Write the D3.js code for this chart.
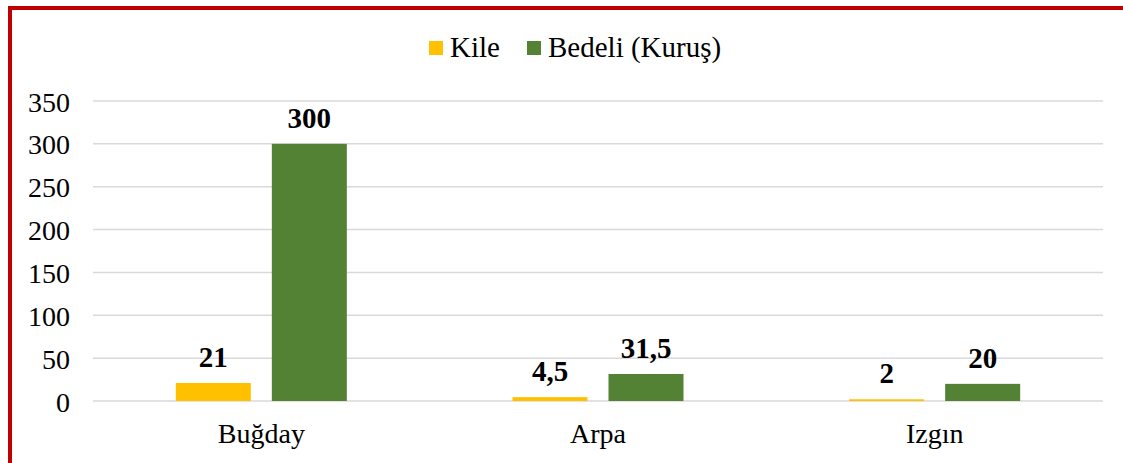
<!DOCTYPE html>
<html>
<head>
<meta charset="utf-8">
<script src="https://cdn.jsdelivr.net/npm/d3@7"></script>
<style>
  body { margin: 0; background: #fff; overflow: hidden; }
  text { font-family: "Liberation Serif", "Times New Roman", serif; }
</style>
</head>
<body>
<svg id="chart" width="1123" height="463"></svg>
<script>
const categories = ['Buğday', 'Arpa', 'Izgın'];
const seriesNames = ['Kile', 'Bedeli (Kuruş)'];
const kile = [21, 4.5, 2];
const bedeli = [300, 31.5, 20];
const yTicks = [0, 50, 100, 150, 200, 250, 300, 350];
const colors = ['#FFC000', '#548235'];

const svg = d3.select('#chart');
const width = +svg.attr('width');
const height = +svg.attr('height');

// red frame (top and left edges visible)
svg.append('line')
    .attr('x1', 8).attr('x2', width)
    .attr('y1', 8).attr('y2', 8)
    .attr('stroke', '#C00000').attr('stroke-width', 4);
svg.append('line')
    .attr('x1', 10).attr('x2', 10)
    .attr('y1', 6).attr('y2', height)
    .attr('stroke', '#C00000').attr('stroke-width', 4);

const margin = { top: 101, left: 93 };
const innerWidth = 1103 - margin.left;
const innerHeight = 401 - margin.top;

const g = svg.append('g').attr('transform', `translate(${margin.left}, ${margin.top})`);

const xScale = d3.scaleBand().domain(categories).range([0, innerWidth]);
const yScale = d3.scaleLinear().domain([0, 350]).range([innerHeight, 0]);

// gridlines
g.selectAll('.grid').data(yTicks).join('line')
    .attr('class', 'grid')
    .attr('x1', 0).attr('x2', innerWidth)
    .attr('y1', d => yScale(d)).attr('y2', d => yScale(d))
    .attr('stroke', '#d9d9d9').attr('stroke-width', 1.5);

const yAxis = g.append('g').call(d3.axisLeft(yScale).tickValues(yTicks).tickSize(0).tickPadding(23));
yAxis.attr('font-size', 28).attr('font-family', '"Liberation Serif", serif').attr('fill', null);
yAxis.select('.domain').remove();
yAxis.selectAll('.tick text').attr('fill', '#000').attr('dy', null).attr('y', 10);

const xAxis = g.append('g').attr('transform', `translate(0, ${innerHeight})`)
    .call(d3.axisBottom(xScale).tickSize(0).tickPadding(22));
xAxis.attr('font-size', 28).attr('font-family', '"Liberation Serif", serif').attr('fill', null);
xAxis.select('.domain').remove();
xAxis.selectAll('.tick text').attr('fill', '#000').attr('dy', null).attr('y', 42);

const data = [];
categories.forEach((c, i) => {
    data.push({ cat: c, s: 0, value: kile[i] });
    data.push({ cat: c, s: 1, value: bedeli[i] });
});

const barW = 75;
const gap = 21;
const barX = d => xScale(d.cat) + xScale.bandwidth() / 2 + (d.s === 0 ? -gap / 2 - barW : gap / 2);

g.selectAll('.bar').data(data).join('rect')
    .attr('class', 'bar')
    .attr('x', barX)
    .attr('width', barW)
    .attr('y', d => yScale(d.value))
    .attr('height', d => innerHeight - yScale(d.value))
    .attr('fill', d => colors[d.s]);

const fmt = v => String(v).replace('.', ',');
g.selectAll('.lbl').data(data).join('text')
    .attr('class', 'lbl')
    .attr('x', d => barX(d) + barW / 2)
    .attr('y', d => yScale(d.value) - 16)
    .attr('text-anchor', 'middle')
    .attr('font-size', '29px')
    .attr('font-weight', 'bold')
    .text(d => fmt(d.value));

// legend
const legendX = [429, 527];
const legend = svg.selectAll('.legend').data(seriesNames).join('g')
    .attr('class', 'legend')
    .attr('transform', (d, i) => `translate(${legendX[i]}, 41)`);
legend.append('rect')
    .attr('width', 14).attr('height', 14)
    .attr('fill', (d, i) => colors[i]);
legend.append('text')
    .attr('x', 21).attr('y', 16)
    .attr('font-size', '29px')
    .text(d => d);
</script>
</body>
</html>
